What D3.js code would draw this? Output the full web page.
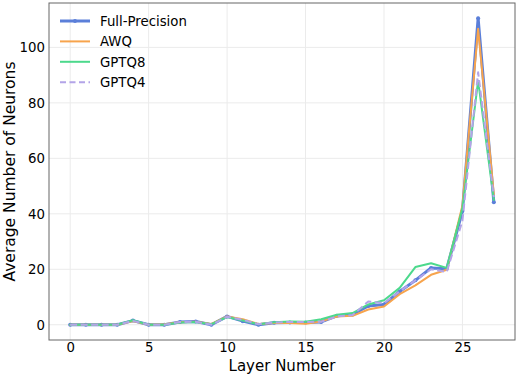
<!DOCTYPE html>
<html>
<head>
<meta charset="utf-8">
<script src="https://cdn.jsdelivr.net/npm/d3@7"></script>
<style>
  body { margin: 0; background: #fff; }
  text { font-family: "DejaVu Sans", sans-serif; fill: #000; }
</style>
</head>
<body>
<div id="chart"></div>
<script>
// layer index 0..27
var layers = d3.range(0, 28);
var fullPrecision = [0,0,0,0,1.5,0,0,1,1.2,0,3,1.3,0,0.7,0.8,0.8,1,3.2,3.7,6.8,7.3,12,16,20.5,20.2,41,110.5,44.2];
var awq   = [0,0,0,0,1.3,0,0.2,0.9,1.1,0.3,3,2,0.3,0.6,0.6,0.4,1.2,3,3.2,5.5,6.6,11,14.2,18,19.8,43,106.7,47];
var gptq8 = [0,0,0,0,1.6,0,0,0.8,1,0.2,2.8,1.5,0.2,0.9,1.2,1.1,2,3.6,4.2,7.3,8.8,13.3,20.8,22.2,20.5,42,88,45];
var gptq4 = [0,0,0,0,1.4,0,0,1,1.1,0,2.9,1.8,0.2,0.8,1,1,1.1,3,3.5,8.4,7.8,12,16,20,19,37.5,91,46];
var seriesNames = ["Full-Precision", "AWQ", "GPTQ8", "GPTQ4"];
var xTicks = [0, 5, 10, 15, 20, 25];
var yTicks = [0, 20, 40, 60, 80, 100];

var W = 518, H = 376;
var margin = {top: 3, right: 3, bottom: 36, left: 49};
var w = W - margin.left - margin.right,
    h = H - margin.top - margin.bottom;

var svg = d3.select("#chart").append("svg")
    .attr("width", W).attr("height", H);
var g = svg.append("g").attr("transform", "translate(" + margin.left + "," + margin.top + ")");

var x = d3.scaleLinear().domain([-1.35, 28.35]).range([0, w]);
var y = d3.scaleLinear().domain([-5.5, 116]).range([h, 0]);

// grid
g.selectAll(".gx").data(xTicks).enter().append("line")
    .attr("x1", function(d){ return x(d); }).attr("x2", function(d){ return x(d); })
    .attr("y1", 0).attr("y2", h)
    .style("stroke", "#ebebeb").style("stroke-width", 1);
g.selectAll(".gy").data(yTicks).enter().append("line")
    .attr("y1", function(d){ return y(d); }).attr("y2", function(d){ return y(d); })
    .attr("x1", 0).attr("x2", w)
    .style("stroke", "#ebebeb").style("stroke-width", 1);

// axes (labels only, no tick marks)
var xAxis = g.append("g").attr("transform", "translate(0," + h + ")")
    .call(d3.axisBottom(x).tickValues(xTicks).tickSize(0).tickPadding(3));
var yAxis = g.append("g")
    .call(d3.axisLeft(y).tickValues(yTicks).tickSize(0).tickPadding(4));
xAxis.select(".domain").remove();
yAxis.select(".domain").remove();
svg.selectAll(".tick text").style("font-size", "13.3px").style("font-family", "DejaVu Sans");

// lines
var colors = ["#5b7fd9", "#f7a44d", "#4cd98c", "#b3a4e8"];
var data = [fullPrecision, awq, gptq8, gptq4];
var widths = [3, 2, 2, 2];
var line = d3.line()
    .x(function(d, i){ return x(layers[i]); })
    .y(function(d){ return y(d); });

data.forEach(function(vals, k) {
    var p = g.append("path").datum(vals)
        .attr("d", line)
        .style("fill", "none")
        .style("stroke", colors[k])
        .style("stroke-width", widths[k])
        .style("stroke-linejoin", "round")
        .style("stroke-linecap", "round");
    if (k == 3) p.style("stroke-dasharray", "7,3.5").style("stroke-linecap", "butt");
    if (k == 0) {
        g.selectAll(".mk").data(vals).enter().append("circle")
            .attr("cx", function(d, i){ return x(layers[i]); })
            .attr("cy", function(d){ return y(d); })
            .attr("r", 2)
            .style("fill", colors[0]);
    }
});

// frame
g.append("rect").attr("width", w).attr("height", h)
    .style("fill", "none").style("stroke", "#666").style("stroke-width", 1);

// axis titles
svg.append("text")
    .attr("x", margin.left + w / 2).attr("y", 370.5)
    .attr("text-anchor", "middle")
    .style("font-size", "15px")
    .text("Layer Number");
svg.append("text")
    .attr("transform", "translate(15," + (margin.top + h / 2) + ") rotate(-90)")
    .attr("text-anchor", "middle")
    .style("font-size", "15.5px")
    .text("Average Number of Neurons");

// legend
var legend = svg.append("g").attr("transform", "translate(60,21)");
seriesNames.forEach(function(name, k) {
    var row = legend.append("g").attr("transform", "translate(0," + (k * 20.4) + ")");
    var ln = row.append("line").attr("x1", 0).attr("x2", 30).attr("y1", 0).attr("y2", 0)
        .style("stroke", colors[k]).style("stroke-width", widths[k]);
    if (k == 3) ln.style("stroke-dasharray", "6,3.5");
    if (k == 0) row.append("circle").attr("cx", 15).attr("cy", 0).attr("r", 2).style("fill", colors[0]);
    row.append("text").attr("x", 40).attr("y", 5)
        .style("font-size", "13.3px")
        .text(name);
});
</script>
</body>
</html>
